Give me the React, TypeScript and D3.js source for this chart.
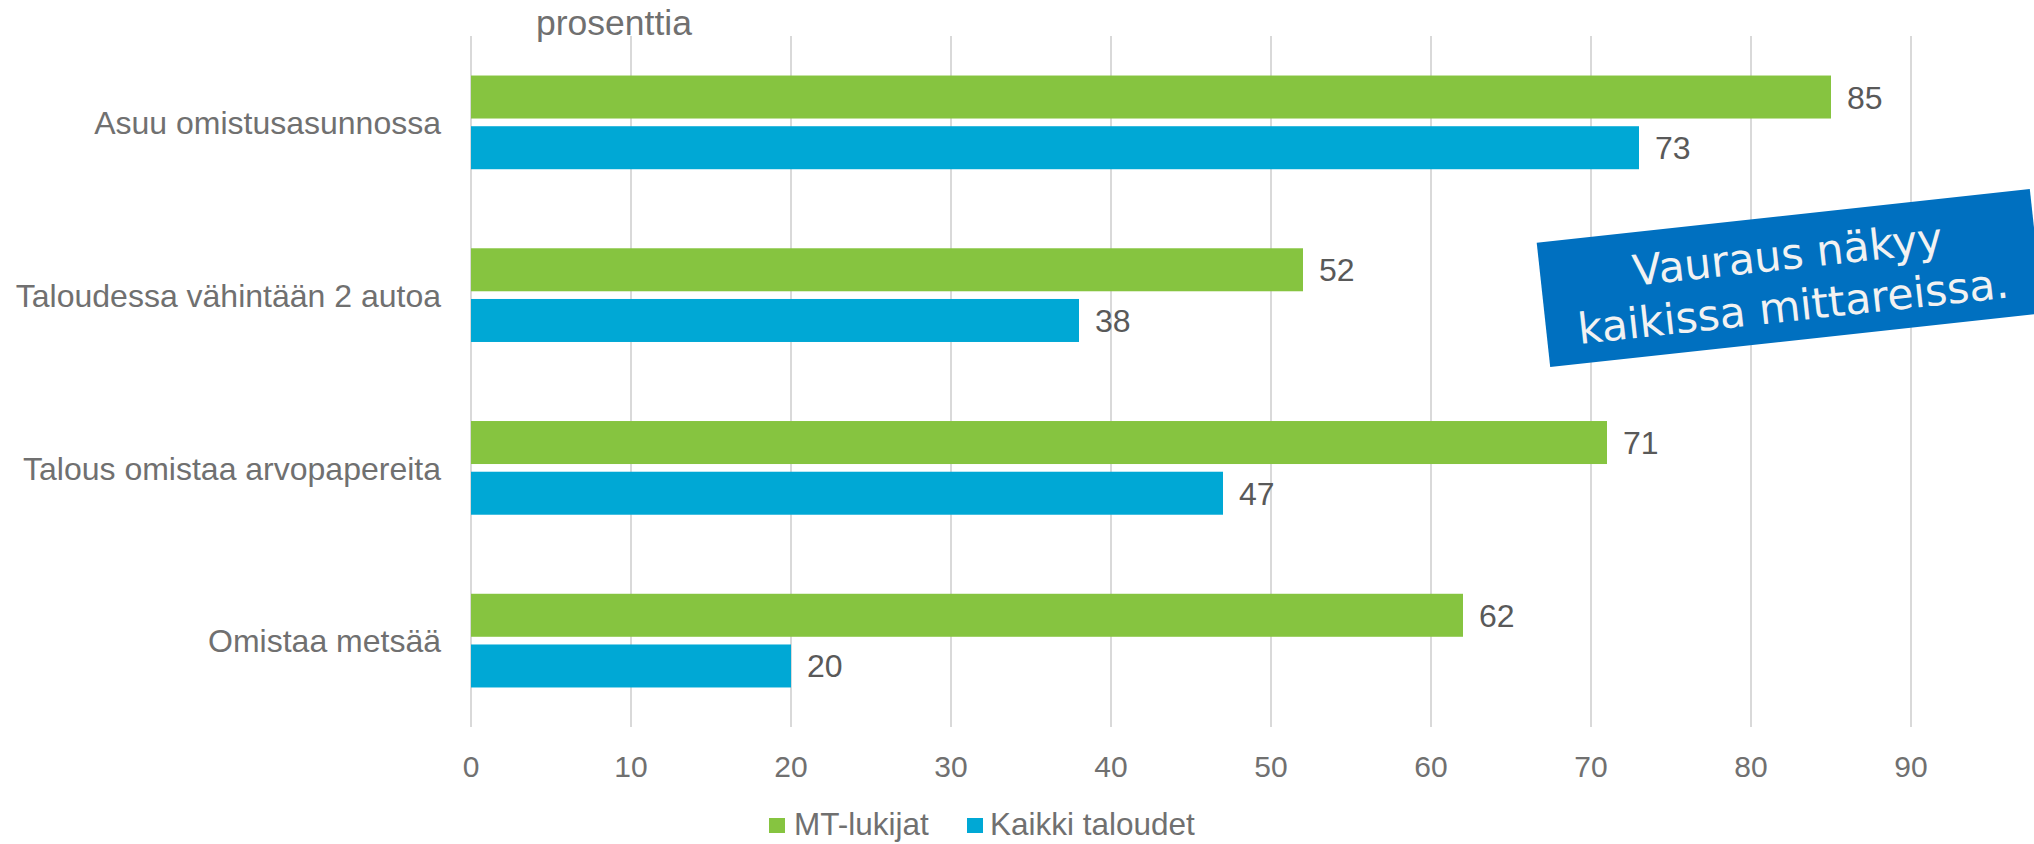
import React from "react";
import * as d3 from "d3";

const categories = [
  "Asuu omistusasunnossa",
  "Taloudessa vähintään 2 autoa",
  "Talous omistaa arvopapereita",
  "Omistaa metsää",
];
const seriesNames = ["MT-lukijat", "Kaikki taloudet"];
const mtLukijat = [85, 52, 71, 62];
const kaikkiTaloudet = [73, 38, 47, 20];
const xTicks = [0, 10, 20, 30, 40, 50, 60, 70, 80, 90];
const colors = ["#86C440", "#00A8D5"];
const unitLabel = "prosenttia";
const calloutLines = ["Vauraus näkyy", "kaikissa mittareissa."];

const W = 2034;
const H = 844;
const FONT = "'Liberation Sans', Arial, sans-serif";

export default function App() {
  const x = d3.scaleLinear().domain([0, 90]).range([471, 1911]);
  const y = d3
    .scaleBand<string>()
    .domain(categories)
    .range([36, 727])
    .paddingInner(0.4576)
    .paddingOuter(0.2288);
  const inner = d3
    .scaleBand<string>()
    .domain(seriesNames)
    .range([0, y.bandwidth()])
    .paddingInner(0.152)
    .paddingOuter(0);
  const values = [mtLukijat, kaikkiTaloudet];
  const plotTop = 36;
  const plotBottom = 727;

  return (
    <svg
      width={W}
      height={H}
      style={{ position: "absolute", left: 0, top: 0, background: "#fff" }}
    >
      {/* gridlines */}
      {xTicks.map((t) => (
        <line
          key={"g" + t}
          x1={x(t)}
          x2={x(t)}
          y1={plotTop}
          y2={plotBottom}
          stroke="#D9D9D9"
          strokeWidth={2}
        />
      ))}
      {/* tick labels */}
      {xTicks.map((t) => (
        <text
          key={"t" + t}
          x={x(t)}
          y={776.5}
          textAnchor="middle"
          fontFamily={FONT}
          fontSize={30}
          fill="#707070"
        >
          {t}
        </text>
      ))}
      {/* unit label */}
      <text x={536} y={35} fontFamily={FONT} fontSize={35.5} fill="#707070">
        {unitLabel}
      </text>
      {/* category labels */}
      {categories.map((c) => (
        <text
          key={"c" + c}
          x={441}
          y={(y(c) as number) + y.bandwidth() / 2}
          dy="0.37em"
          textAnchor="end"
          fontFamily={FONT}
          fontSize={32}
          fill="#707070"
        >
          {c}
        </text>
      ))}
      {/* bars */}
      {seriesNames.map((s, si) =>
        categories.map((c, ci) => {
          const v = values[si][ci];
          const by = (y(c) as number) + (inner(s) as number);
          return (
            <g key={s + c}>
              <rect
                x={x(0)}
                y={by}
                width={x(v) - x(0)}
                height={inner.bandwidth()}
                fill={colors[si]}
              />
              <text
                x={x(v) + 16}
                y={by + inner.bandwidth() / 2}
                dy="0.36em"
                fontFamily={FONT}
                fontSize={32}
                fill="#595959"
              >
                {v}
              </text>
            </g>
          );
        })
      )}
      {/* legend */}
      <g>
        <rect x={769} y={818} width={16} height={15} fill={colors[0]} />
        <text x={794} y={835} fontFamily={FONT} fontSize={31.5} fill="#707070">
          {seriesNames[0]}
        </text>
        <rect x={967} y={818} width={16} height={15} fill={colors[1]} />
        <text x={990} y={835} fontFamily={FONT} fontSize={31.5} fill="#707070">
          {seriesNames[1]}
        </text>
      </g>
      {/* callout */}
      <g transform="translate(1790,278) rotate(-6.2)">
        <rect x={-248} y={-62.5} width={496} height={125} fill="#0070C0" />
        <text
          textAnchor="middle"
          fontFamily="'DejaVu Sans', Verdana, sans-serif"
          fontSize={42.5}
          fill="#F2F2F2"
        >
          <tspan x={0} y={-9}>
            {calloutLines[0]}
          </tspan>
          <tspan x={0} y={43}>
            {calloutLines[1]}
          </tspan>
        </text>
      </g>
    </svg>
  );
}
